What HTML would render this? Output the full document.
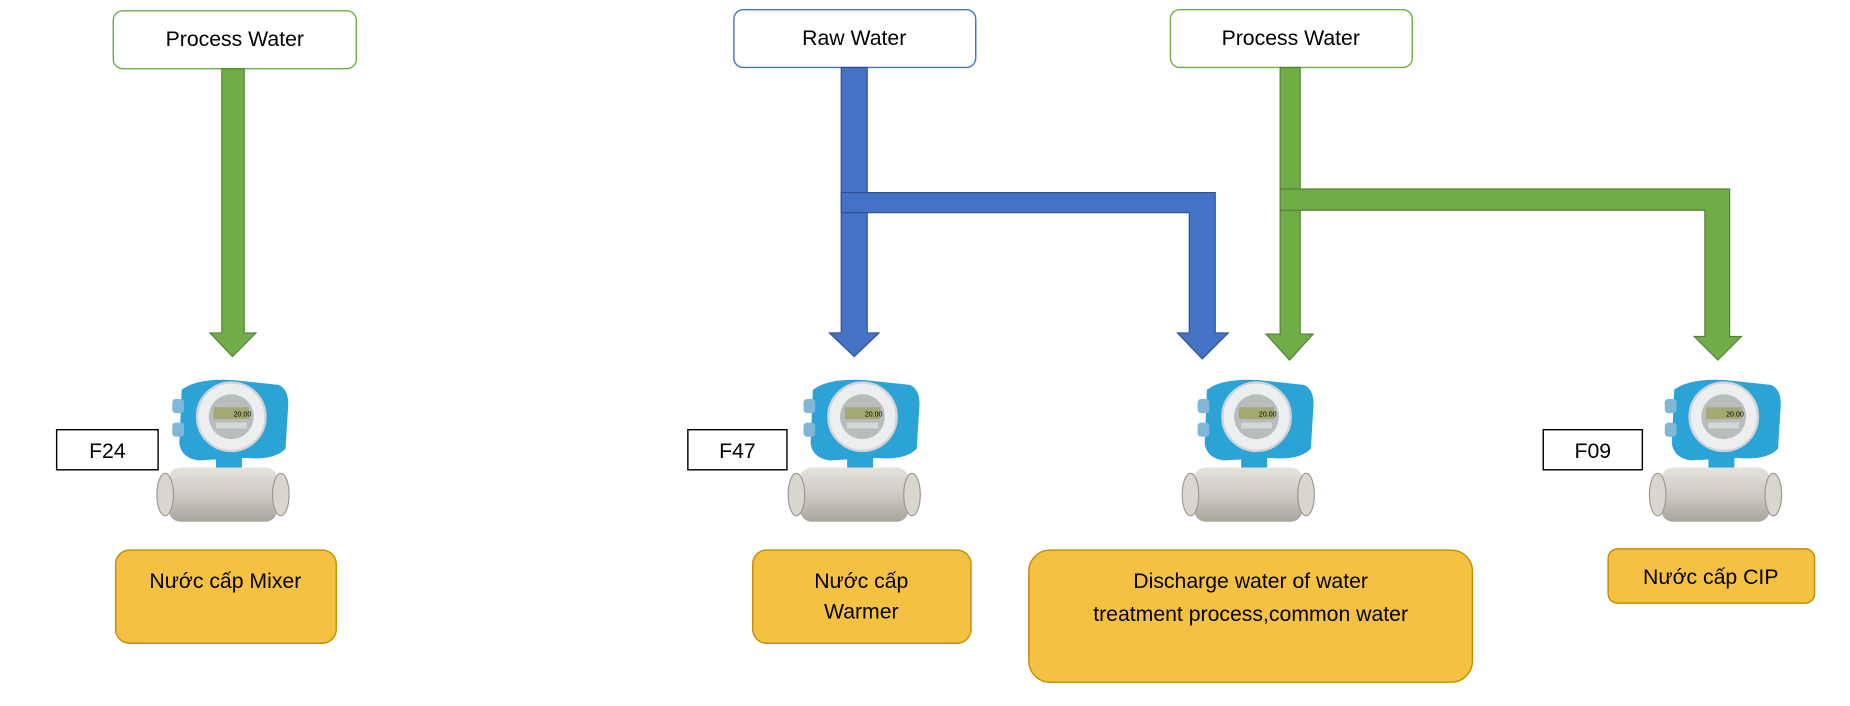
<!DOCTYPE html>
<html><head><meta charset="utf-8"><style>
html,body{margin:0;padding:0;background:#fff;}
svg{display:block;}
text{font-family:"Liberation Sans","DejaVu Sans",sans-serif;font-size:18px;fill:#000;}
</style></head><body>
<svg width="1850" height="706" viewBox="0 0 1568 598" xmlns="http://www.w3.org/2000/svg">
<defs>
<linearGradient id="pipe" x1="0" y1="0" x2="0" y2="1">
<stop offset="0" stop-color="#e6e3dd"/><stop offset="0.5" stop-color="#cfcac2"/><stop offset="1" stop-color="#a9a49c"/>
</linearGradient>
<g id="meter">
<path d="M26,12 Q40,2 70,4 L108,8 Q118,12 116,30 L114,62 Q105,72 80,70 L40,72 Q26,70 24,58 Z" fill="#2ba3d6"/>
<rect x="18" y="20" width="10" height="12" rx="3" fill="#7fb7d6"/>
<rect x="18" y="40" width="10" height="12" rx="3" fill="#7fb7d6"/>
<circle cx="68" cy="35" r="29" fill="#eceef0" stroke="#cfd3d6" stroke-width="2"/>
<circle cx="68" cy="35" r="19" fill="#b9bcbd"/>
<rect x="53" y="27" width="30" height="10" fill="#a4a874"/>
<text x="70" y="35" style="font-size:6px">20.00</text>
<rect x="55" y="40" width="26" height="5" fill="#d6d8d9"/>
<rect x="55" y="66" width="22" height="14" fill="#2ba3d6"/>
<rect x="15" y="78" width="92" height="46" rx="10" fill="url(#pipe)"/>
<ellipse cx="12" cy="101" rx="7" ry="18" fill="#d9d6d0" stroke="#9d9890"/>
<ellipse cx="110" cy="101" rx="7" ry="18" fill="#d9d6d0" stroke="#9d9890"/>
</g>
</defs>

<!-- top boxes -->
<rect x="96" y="9" width="206" height="49" rx="8" fill="#fff" stroke="#70ad47" stroke-width="1.2"/>
<text x="199" y="39" text-anchor="middle">Process Water</text>
<rect x="622" y="8" width="205" height="49" rx="8" fill="#fff" stroke="#4472c4" stroke-width="1.2"/>
<text x="724" y="38" text-anchor="middle">Raw Water</text>
<rect x="992" y="8" width="205" height="49" rx="8" fill="#fff" stroke="#70ad47" stroke-width="1.2"/>
<text x="1094" y="38" text-anchor="middle">Process Water</text>

<!-- green arrow 1 -->
<path d="M188,58 H207 V282 H217 L197,302 L178,282 H188 Z" fill="#70ad47" stroke="#548235" stroke-width="1"/>

<!-- blue -->
<path d="M713,57 H735 V163 H1030 V282 H1041 L1019,304 L998,282 H1008 V180 H735 V282 H745 L724,302 L703,282 H713 Z" fill="#4472c4" stroke="#2f528f" stroke-width="1"/>
<line x1="713" y1="163" x2="735" y2="163" stroke="#2f528f"/>
<line x1="713" y1="180" x2="735" y2="180" stroke="#2f528f"/>
<line x1="713" y1="163" x2="713" y2="180" stroke="#2f528f"/>

<!-- green right -->
<path d="M1085,57 H1102 V160 H1466 V285 H1476 L1456,305 L1436,285 H1445 V178 H1102 V283 H1113 L1093,305 L1073,283 H1085 Z" fill="#70ad47" stroke="#548235" stroke-width="1"/>
<line x1="1085" y1="160" x2="1102" y2="160" stroke="#548235"/>
<line x1="1085" y1="178" x2="1102" y2="178" stroke="#548235"/>

<!-- meters -->
<use href="#meter" x="128" y="318"/>
<use href="#meter" x="663" y="318"/>
<use href="#meter" x="997" y="318"/>
<use href="#meter" x="1393" y="318"/>

<!-- labels -->
<rect x="48" y="364" width="86" height="34" fill="#fff" stroke="#000" stroke-width="1.2"/>
<text x="91" y="388" text-anchor="middle">F24</text>
<rect x="583" y="364" width="84" height="34" fill="#fff" stroke="#000" stroke-width="1.2"/>
<text x="625" y="388" text-anchor="middle">F47</text>
<rect x="1308" y="364" width="84" height="34" fill="#fff" stroke="#000" stroke-width="1.2"/>
<text x="1350" y="388" text-anchor="middle">F09</text>

<!-- bottom boxes -->
<rect x="98" y="466" width="187" height="79" rx="12" fill="#f4c142" stroke="#bf9000" stroke-width="1.2"/>
<text x="191" y="498" text-anchor="middle">Nước cấp Mixer</text>
<rect x="638" y="466" width="185" height="79" rx="12" fill="#f4c142" stroke="#bf9000" stroke-width="1.2"/>
<text x="730" y="498" text-anchor="middle">Nước cấp</text>
<text x="730" y="524" text-anchor="middle">Warmer</text>
<rect x="872" y="466" width="376" height="112" rx="18" fill="#f4c142" stroke="#bf9000" stroke-width="1.2"/>
<text x="1060" y="498" text-anchor="middle">Discharge water of water</text>
<text x="1060" y="526" text-anchor="middle">treatment process,common water</text>
<rect x="1363" y="465" width="175" height="46" rx="8" fill="#f4c142" stroke="#bf9000" stroke-width="1.2"/>
<text x="1450" y="495" text-anchor="middle">Nước cấp CIP</text>
</svg>
</body></html>
